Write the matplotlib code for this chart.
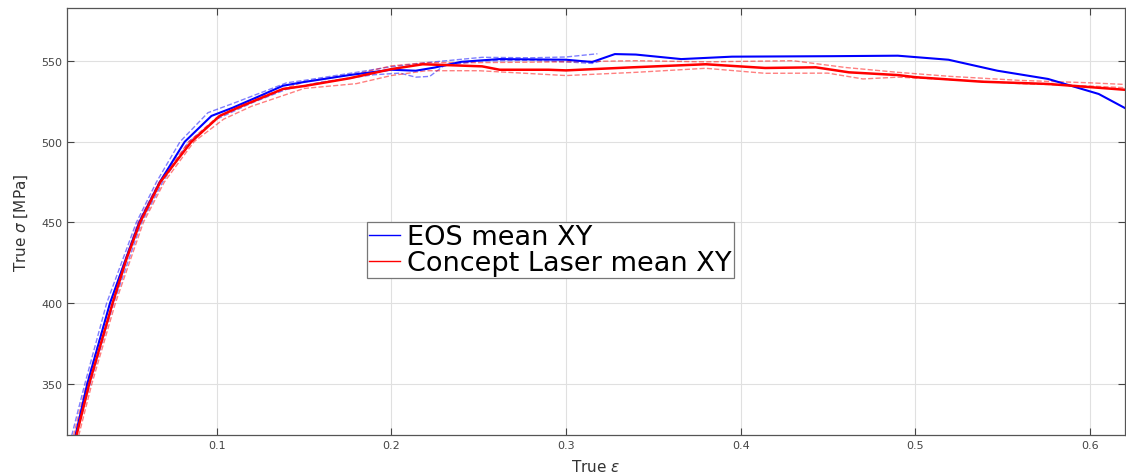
import matplotlib
matplotlib.use("Agg")
import matplotlib.pyplot as plt

# EOS mean XY (true strain, true stress MPa)
eos_eps = [0.0185, 0.0259, 0.0389, 0.048, 0.0556, 0.0674, 0.0817, 0.097, 0.109, 0.125,
           0.138, 0.15, 0.176, 0.2, 0.214, 0.225, 0.24, 0.262, 0.3, 0.315, 0.328, 0.34,
           0.366, 0.395, 0.452, 0.49, 0.519, 0.547, 0.576, 0.605, 0.62]
eos_sig = [315, 350, 400, 427.5, 450, 475, 500, 516, 521, 528.5,
           534.7, 537, 541.3, 544.6, 544, 546, 549.5, 551.2, 550.8, 549.4, 554.3, 554,
           551.2, 552.7, 553, 553.3, 550.8, 544, 538.9, 529.6, 520.9]

# Concept Laser mean XY
cl_eps = [0.0198, 0.027, 0.0404, 0.0484, 0.0561, 0.0677, 0.0855, 0.1017, 0.113, 0.138,
          0.15, 0.176, 0.2, 0.218, 0.252, 0.262, 0.29, 0.3, 0.338, 0.38, 0.414, 0.443,
          0.462, 0.49, 0.5, 0.538, 0.576, 0.62]
cl_sig = [318.5, 350, 400, 427.5, 450, 475, 500, 516, 521.5, 532.7,
          534.5, 539.3, 545, 548, 546.7, 544.6, 544.6, 544.2, 546.1, 548, 545.7, 546.1,
          543, 541.3, 540, 537.2, 535.8, 532.2]

# individual EOS specimens (dashed)
eos_a_eps = [0.017, 0.0245, 0.037, 0.054, 0.0655, 0.079, 0.095, 0.11, 0.14, 0.15, 0.18,
             0.2, 0.22, 0.252, 0.28, 0.3, 0.318]
eos_a_sig = [318, 350, 400, 450, 475, 500, 518, 524, 536.5, 538, 543,
             546.5, 549, 552.3, 552, 552.5, 554.5]
eos_b_eps = [0.0195, 0.0275, 0.041, 0.057, 0.069, 0.084, 0.1, 0.12, 0.14, 0.16, 0.19,
             0.205, 0.214, 0.222, 0.23, 0.25, 0.28, 0.3, 0.315, 0.32]
eos_b_sig = [318, 350, 400, 450, 475, 500, 514, 524, 532.5, 537, 541.5,
             542.5, 540, 540.5, 547, 550, 550.5, 549.5, 548.5, 550]

# individual Concept Laser specimens (dashed)
cl_a_eps = [0.018, 0.0255, 0.039, 0.055, 0.067, 0.084, 0.1, 0.12, 0.15, 0.18, 0.2, 0.22,
            0.25, 0.3, 0.34, 0.38, 0.43, 0.46, 0.49, 0.52, 0.56, 0.6, 0.62]
cl_a_sig = [318, 350, 400, 450, 475, 500, 515, 526, 537, 542, 547, 549,
            549, 549.5, 550.2, 549.5, 550.2, 546, 543, 540.5, 538, 536.5, 535.5]
cl_b_eps = [0.021, 0.0285, 0.042, 0.058, 0.07, 0.087, 0.104, 0.12, 0.15, 0.18, 0.2, 0.22,
            0.25, 0.3, 0.34, 0.38, 0.414, 0.45, 0.47, 0.49, 0.52, 0.56, 0.6, 0.62]
cl_b_sig = [318, 350, 400, 450, 475, 500, 514, 522, 533, 536, 541, 544,
            544, 541, 543, 545.5, 542.4, 542.5, 538.9, 540, 538.5, 536, 534.5, 533.5]

fig = plt.figure(figsize=(11.26, 4.77), dpi=100)
ax = fig.add_axes([0.0595, 0.086, 0.9395, 0.895])

ax.plot(eos_a_eps, eos_a_sig, '--', color='#0000ff', lw=1, alpha=0.5)
ax.plot(eos_b_eps, eos_b_sig, '--', color='#0000ff', lw=1, alpha=0.5)
ax.plot(cl_a_eps, cl_a_sig, '--', color='#ff0000', lw=1, alpha=0.5)
ax.plot(cl_b_eps, cl_b_sig, '--', color='#ff0000', lw=1, alpha=0.5)
ax.plot(eos_eps, eos_sig, color='#0000ff', lw=1.5, label='EOS mean XY')
ax.plot(cl_eps, cl_sig, color='#ff0000', lw=1.8, label='Concept Laser mean XY')

ax.set_xlim(0.0143, 0.62)
ax.set_ylim(318.4, 582.8)
ax.set_xticks([0.1, 0.2, 0.3, 0.4, 0.5, 0.6])
ax.set_yticks([350, 400, 450, 500, 550])
ax.grid(True, color='#e0e0e0', lw=0.8)
ax.tick_params(direction='in', top=True, right=True, labelsize=8, colors='#444444',
               length=5, width=0.8)
for s in ax.spines.values():
    s.set_color('#555555')
    s.set_linewidth(0.9)

ax.set_xlabel(r'True $\epsilon$', fontsize=11, color='#333333', labelpad=6)
ax.set_ylabel(r'True $\sigma$ [MPa]', fontsize=11, color='#333333', labelpad=8)

leg = ax.legend(loc='upper left', bbox_to_anchor=(0.326, 0.5325),
                bbox_transform=fig.transFigure, fontsize=19.5, fancybox=False,
                edgecolor='#777777', framealpha=1, handlelength=1.15,
                borderpad=0.08, labelspacing=0.0, handletextpad=0.25,
                borderaxespad=0)
leg.get_frame().set_linewidth(0.9)
for line in leg.get_lines():
    line.set_linewidth(1.0)

fig.savefig('out.png', dpi=100)
